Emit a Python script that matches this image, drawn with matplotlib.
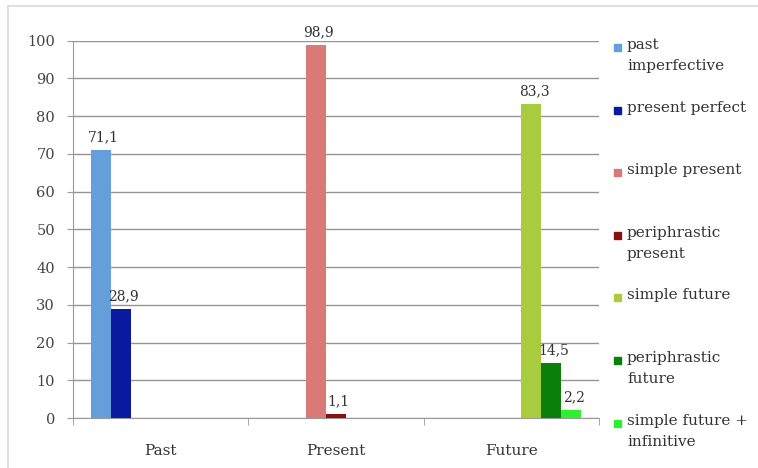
import matplotlib
matplotlib.use("Agg")
import matplotlib.pyplot as plt
from matplotlib.patches import Rectangle
from matplotlib.lines import Line2D
import numpy as np

plt.rcParams['font.family'] = ['DejaVu Serif']

categories = ["Past", "Present", "Future"]
series_names = ["past\nimperfective", "present perfect", "simple present",
                "periphrastic\npresent", "simple future", "periphrastic\nfuture",
                "simple future +\ninfinitive"]
# one value per category for each series (0 = not present)
past_imperfective = [71.1, 0, 0]
present_perfect = [28.9, 0, 0]
simple_present = [0, 98.9, 0]
periphrastic_present = [0, 1.1, 0]
simple_future = [0, 0, 83.3]
periphrastic_future = [0, 0, 14.5]
simple_future_inf = [0, 0, 2.2]
series_values = [past_imperfective, present_perfect, simple_present,
                 periphrastic_present, simple_future, periphrastic_future,
                 simple_future_inf]
colors = ["#659FDB", "#0A1AA0", "#D97A77", "#8A1010",
          "#A8CC3E", "#0A800A", "#2EF02E"]

fig = plt.figure(figsize=(7.58, 4.68), dpi=100)
ax = fig.add_axes([73/758, 1 - 418/468, 526/758, (418 - 40.7)/468])

# light chart border: only the left and top edges are inside the picture
bx, by = 8/758, 1 - 6/468
fig.add_artist(Line2D([bx, bx], [0, by], color="#d9d9d9", lw=1.2))
fig.add_artist(Line2D([bx, 1], [by, by], color="#d9d9d9", lw=1.2))

n = len(series_values)
width = 0.8 / n
x = np.arange(len(categories))
for i, (vals, c) in enumerate(zip(series_values, colors)):
    pos = x - 0.4 + width * (i + 0.5)
    ax.bar(pos, vals, width=width, color=c, zorder=3)
    for p, v in zip(pos, vals):
        if v > 0:
            ax.annotate(f"{v:.1f}".replace(".", ","), (p, v),
                        xytext=(2, 4), textcoords="offset points",
                        ha="center", va="bottom", fontsize=10, color="#333333")

ax.set_xlim(-0.5, 2.5)
ax.set_ylim(0, 100)
ax.set_yticks(range(0, 101, 10))
ax.yaxis.grid(True, color="#949494", lw=1, zorder=0)
ax.set_xticks(x)
ax.set_xticklabels(categories, fontsize=11, color="#333333")
ax.set_xticks([-0.5, 0.5, 1.5, 2.5], minor=True)
ax.tick_params(axis="x", which="major", length=0, pad=19)
ax.tick_params(axis="x", which="minor", length=5, color="#9a9a9a")
ax.tick_params(axis="y", length=4, color="#9a9a9a", labelsize=10.5,
               labelcolor="#444444", pad=9)
for s in ["top", "right"]:
    ax.spines[s].set_visible(False)
for s in ["left", "bottom"]:
    ax.spines[s].set_color("#9a9a9a")

# legend on the right
for i, (name, c) in enumerate(zip(series_names, colors)):
    y = 47 + i * 62.6
    fig.patches.append(Rectangle((614/758, 1 - (y + 4)/468), 7/758, 7/468,
                                 transform=fig.transFigure, color=c))
    fig.text(627/758, 1 - (y - 9)/468, name, fontsize=11, va="top",
             ha="left", linespacing=1.65, color="#333333")

fig.savefig("out.png", dpi=100)
